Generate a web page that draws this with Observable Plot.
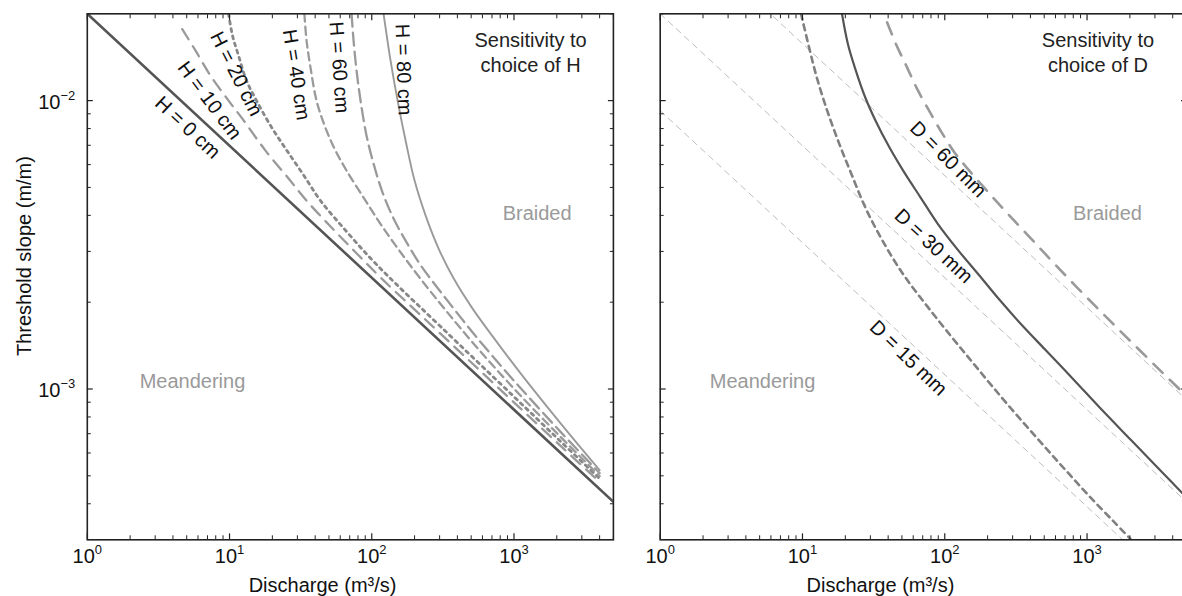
<!DOCTYPE html>
<html><head><meta charset="utf-8">
<script src="https://cdn.jsdelivr.net/npm/d3@7"></script>
<script src="https://cdn.jsdelivr.net/npm/@observablehq/plot@0.6"></script>
<style>
html,body{margin:0;padding:0;background:#fff;overflow:hidden;}
#wrap{position:relative;width:1182px;height:596px;overflow:hidden;background:#fff;}
#wrap svg{position:absolute;top:0;}
</style></head>
<body><div id="wrap"></div>
<script>
// ---------- tick values and labels ----------
const xMajor = [1, 10, 100, 1000];
const xMajorText = ["10^0", "10^1", "10^2", "10^3"];
const xMinor = [2,3,4,5,6,7,8,9,20,30,40,50,60,70,80,90,200,300,400,500,600,700,800,900,2000,3000,4000,5000];
const yMajor = [0.001, 0.01];
const yMajorText = ["10^\u22123", "10^\u22122"];
const yMinor = [0.0004,0.0005,0.0006,0.0007,0.0008,0.0009,0.002,0.003,0.004,0.005,0.006,0.007,0.008,0.009,0.02];

// ---------- left panel: sensitivity to H ----------
const h0Q = [1, 5000];
const h0S = [0.02, 0.000406];
const h10Q = [4.65, 5.77, 7.35, 9.84, 12.3, 17.9, 26.0, 34.8, 51.3, 76.9, 121, 220, 457, 994, 2127, 4000];
const h10S = [0.0177, 0.0149, 0.0122, 0.0100, 0.00866, 0.00671, 0.00537, 0.00450, 0.00366, 0.00298, 0.00238, 0.001806, 0.001289, 0.000901, 0.000635, 0.000476];
const h20Q = [9.84, 10.5, 11.57, 13.17, 15.48, 19.43, 24.76, 32.6, 43.6, 65.4, 98.1, 144.6, 304.6, 994, 2127, 4000];
const h20S = [0.0200, 0.01679, 0.01432, 0.01173, 0.0100, 0.00819, 0.00682, 0.00559, 0.00450, 0.00355, 0.00284, 0.00234, 0.001646, 0.000943, 0.000658, 0.000489];
const h40Q = [33.6, 34.8, 37.1, 40.9, 46.6, 54.7, 66.5, 90.4, 117.2, 159.4, 220.4, 330.4, 537, 994, 2127, 4000];
const h40S = [0.0200, 0.01614, 0.01301, 0.0100, 0.00819, 0.00682, 0.00572, 0.00450, 0.00369, 0.00298, 0.00241, 0.001877, 0.00141, 0.001006, 0.000682, 0.000499];
const h60Q = [72.1, 74.5, 78.2, 83.4, 91.9, 102.9, 119.1, 142.3, 172.9, 220.4, 330.4, 537, 994, 2127, 4000];
const h60S = [0.0200, 0.01614, 0.0127, 0.0100, 0.00756, 0.00605, 0.0048, 0.0039, 0.00327, 0.00269, 0.002065, 0.001527, 0.001072, 0.00071, 0.000511];
const h80Q = [121.1, 135.6, 151.9, 172.9, 200.0, 238.9, 295.0, 376.1, 511.5, 742.5, 1113, 2127, 4000];
const h80S = [0.0200, 0.01376, 0.0100, 0.00727, 0.00528, 0.0040, 0.00307, 0.00242, 0.0019, 0.001475, 0.001133, 0.00076, 0.000523];

// ---------- right panel: sensitivity to D ----------
const a15Q = [1, 5000], a15S = [0.00923, 0.000187];
const a30Q = [1, 5000], a30S = [0.02, 0.000406];
const a60Q = [1, 5000], a60S = [0.0452, 0.000918];
const d15Q = [9.76, 11.27, 12.6, 14.92, 18.14, 22.06, 27.58, 36.5, 51.0, 75.4, 111.6, 156.1, 218.5, 323.2, 478.2, 707.4, 1046, 1548, 2018];
const d15S = [0.0200, 0.0149, 0.01204, 0.00923, 0.00708, 0.00557, 0.00427, 0.00327, 0.0025, 0.001934, 0.001516, 0.00124, 0.001014, 0.000808, 0.000649, 0.000523, 0.000423, 0.000346, 0.000302];
const d30Q = [18.95, 20.85, 23.31, 27.58, 32.63, 40.8, 51.0, 67.5, 89.3, 124.8, 174.5, 244.3, 341.5, 505.1, 791, 1236, 2045, 3202, 4682];
const d30S = [0.0200, 0.01571, 0.01304, 0.01027, 0.00852, 0.00689, 0.00572, 0.00462, 0.00374, 0.00302, 0.00248, 0.00203, 0.001684, 0.001373, 0.001088, 0.000859, 0.000664, 0.000528, 0.000435];
const d60Q = [39.3, 45.6, 54.0, 63.8, 77.6, 94.3, 118.1, 147.7, 184.6, 230.8, 305.4, 423.6, 585.5, 828.6, 1178, 1670, 2373, 3459, 4682];
const d60S = [0.01868, 0.01563, 0.01312, 0.011, 0.00923, 0.00781, 0.00657, 0.00574, 0.00506, 0.00447, 0.00385, 0.00324, 0.00273, 0.00228, 0.00191, 0.001608, 0.001354, 0.001128, 0.000976];

// ---------- text annotations (data coordinates) ----------
const hLabelText = ["H = 0 cm", "H = 10 cm", "H = 20 cm", "H = 40 cm", "H = 60 cm", "H = 80 cm"];
const hLabelQ = [5.07, 7.23, 11.16, 29.5, 59.0, 167];
const hLabelS = [0.00806, 0.0100, 0.01238, 0.0123, 0.01304, 0.0128];
const hLabelAngle = [43, 53, 63, 81, 86, 88];
const dLabelText = ["D = 60 mm", "D = 30 mm", "D = 15 mm"];
const dLabelQ = [105.5, 83.3, 55.5];
const dLabelS = [0.00625, 0.00313, 0.00128];
const dLabelAngle = [45, 43, 44];

const FONT = "'Liberation Sans', Arial, Helvetica, sans-serif";
const zip = (Q, S) => Q.map((q, i) => ({Q: q, S: S[i]}));
const xTickMap = new Map(xMajor.map((v, i) => [v, xMajorText[i]]));
const yTickMap = new Map(yMajor.map((v, i) => [v, yMajorText[i]]));

function frameMarks(showYLabels) {
  const ax = "#222";
  const m = [
    Plot.axisX(xMajor, {anchor: "bottom", tickSize: -6, fill: "none", stroke: ax, strokeWidth: 1.2}),
    Plot.axisX(xMinor, {anchor: "bottom", tickSize: -4, fill: "none", stroke: ax, strokeWidth: 1}),
    Plot.axisX(xMajor, {anchor: "top", tickSize: -6, fill: "none", stroke: ax, strokeWidth: 1.2}),
    Plot.axisX(xMinor, {anchor: "top", tickSize: -4, fill: "none", stroke: ax, strokeWidth: 1}),
    Plot.axisY(yMajor, {anchor: "left", tickSize: -6, fill: "none", stroke: ax, strokeWidth: 1.2}),
    Plot.axisY(yMinor, {anchor: "left", tickSize: -4, fill: "none", stroke: ax, strokeWidth: 1}),
    Plot.axisY(yMajor, {anchor: "right", tickSize: -6, fill: "none", stroke: ax, strokeWidth: 1.2}),
    Plot.axisY(yMinor, {anchor: "right", tickSize: -4, fill: "none", stroke: ax, strokeWidth: 1}),
    Plot.axisX(xMajor, {anchor: "bottom", tickSize: 0, tickPadding: 9, tickFormat: d => xTickMap.get(d), fontSize: 20, fill: "#111", label: null}),
    Plot.frame({stroke: ax, strokeWidth: 1.6})
  ];
  if (showYLabels) m.push(Plot.axisY(yMajor, {anchor: "left", tickSize: 0, tickPadding: 12, dy: 2, tickFormat: d => yTickMap.get(d), fontSize: 20, fill: "#111", label: null}));
  return m;
}

function supify(svg) {
  const ns = "http://www.w3.org/2000/svg";
  d3.select(svg).selectAll("text").each(function () {
    const m = /^10\^(.+)$/.exec(this.textContent);
    if (!m) return;
    this.textContent = "";
    const base = document.createElementNS(ns, "tspan");
    base.textContent = "10";
    const sup = document.createElementNS(ns, "tspan");
    sup.setAttribute("dy", "-9");
    sup.setAttribute("font-size", "13");
    sup.textContent = m[1];
    this.appendChild(base);
    this.appendChild(sup);
  });
}

function panel({width, marginLeft, marginRight, series, labels, notes, xLabelQ, showY}) {
  const marks = [];
  for (const s of series) {
    marks.push(Plot.line(zip(s.Q, s.S), {
      x: "Q", y: "S", stroke: s.stroke, strokeWidth: s.width,
      strokeDasharray: s.dash, curve: "catmull-rom", clip: true
    }));
  }
  marks.push(Plot.text(labels, {x: "Q", y: "S", text: "text", rotate: "angle", fontSize: 20, fill: "#111"}));
  marks.push(Plot.text(notes, {x: "Q", y: "S", text: "text", fill: "fill", fontSize: 20, lineHeight: 1.25}));
  marks.push(Plot.text(["Discharge (m\u00b3/s)"], {x: () => xLabelQ, frameAnchor: "bottom", lineAnchor: "bottom", textAnchor: "middle", dy: 52, fontSize: 20, fill: "#111"}));
  if (showY) marks.push(Plot.text(["Threshold slope (m/m)"], {y: () => 0.00289, frameAnchor: "left", textAnchor: "middle", rotate: -90, lineAnchor: "bottom", dx: -56, fontSize: 20, fill: "#111"}));
  marks.push(...frameMarks(showY));
  const svg = Plot.plot({
    width, height: 596,
    marginLeft, marginRight, marginTop: 13.3, marginBottom: 56.7,
    style: {fontFamily: FONT, fontSize: "20px", background: "white", overflow: "visible"},
    x: {type: "log", domain: [1, 5000], axis: null},
    y: {type: "log", domain: [0.0003, 0.02], axis: null},
    marks
  });
  supify(svg);
  return svg;
}

const grey = "#9a9a9a";
const leftSeries = [
  {Q: h0Q, S: h0S, stroke: "#555", width: 2.6},
  {Q: h10Q, S: h10S, stroke: grey, width: 2.3, dash: "12,8"},
  {Q: h20Q, S: h20S, stroke: "#888", width: 2.8, dash: "3,4.5"},
  {Q: h40Q, S: h40S, stroke: grey, width: 2.3, dash: "8,5"},
  {Q: h60Q, S: h60S, stroke: grey, width: 2.3, dash: "13,6"},
  {Q: h80Q, S: h80S, stroke: grey, width: 1.9}
];
const rightSeries = [
  {Q: a15Q, S: a15S, stroke: "#bdbdbd", width: 1, dash: "6,5"},
  {Q: a30Q, S: a30S, stroke: "#bdbdbd", width: 1, dash: "6,5"},
  {Q: a60Q, S: a60S, stroke: "#bdbdbd", width: 1, dash: "6,5"},
  {Q: d15Q, S: d15S, stroke: "#808080", width: 2.6, dash: "6,5"},
  {Q: d30Q, S: d30S, stroke: "#555", width: 2.2},
  {Q: d60Q, S: d60S, stroke: grey, width: 2.6, dash: "13,10"}
];
const hLabels = hLabelText.map((t, i) => ({text: t, Q: hLabelQ[i], S: hLabelS[i], angle: hLabelAngle[i]}));
const dLabels = dLabelText.map((t, i) => ({text: t, Q: dLabelQ[i], S: dLabelS[i], angle: dLabelAngle[i]}));
const leftNotes = [
  {text: "Sensitivity to\nchoice of H", Q: 1308, S: 0.01478, fill: "#222"},
  {text: "Braided", Q: 1454, S: 0.0041, fill: grey},
  {text: "Meandering", Q: 5.49, S: 0.001075, fill: grey}
];
const rightNotes = [
  {text: "Sensitivity to\nchoice of D", Q: 1193, S: 0.01478, fill: "#222"},
  {text: "Braided", Q: 1391, S: 0.0041, fill: grey},
  {text: "Meandering", Q: 5.24, S: 0.001075, fill: grey}
];

const wrap = document.getElementById("wrap");
const left = panel({width: 640, marginLeft: 86.8, marginRight: 27.1, series: leftSeries, labels: hLabels, notes: leftNotes, xLabelQ: 45.1, showY: true});
left.style.left = "0px";
const right = panel({width: 550, marginLeft: 19.7, marginRight: 4, series: rightSeries, labels: dLabels, notes: rightNotes, xLabelQ: 35.3, showY: false});
right.style.left = "640px";
wrap.appendChild(left);
wrap.appendChild(right);
</script>
</body></html>
